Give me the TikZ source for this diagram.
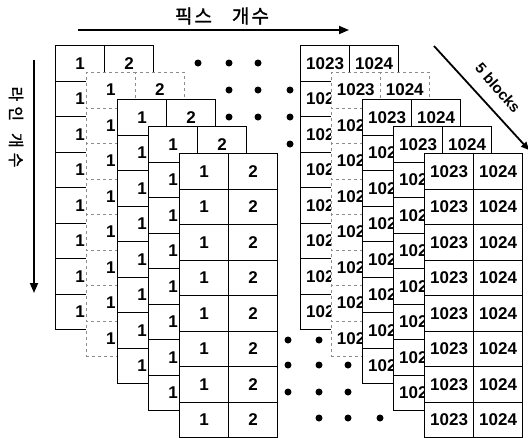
\documentclass[tikz,border=0pt]{standalone}
\usepackage{fontspec}
\setmainfont{Liberation Sans}
\newfontfamily\kr[FakeBold=1.5]{Noto Sans CJK KR}
\usetikzlibrary{arrows.meta}
\begin{document}
\begin{tikzpicture}[x=1pt,y=-1pt,
  cell/.style={draw=black, line width=1.2pt, fill=white, minimum width=49pt,
    minimum height=35.5pt, inner sep=0pt, anchor=north west,
    font=\bfseries\fontsize{17}{17}\selectfont},
  faint/.style={draw=black!45, dashed, line width=0.6pt},
  dotn/.style={circle, fill=black, minimum size=7pt, inner sep=0pt},
  bigarrow/.style={line width=1.8pt, -{Triangle[length=10pt,width=8pt]}},
  klabel/.style={font=\kr\fontsize{19}{19}\selectfont, inner sep=0pt}]
\useasboundingbox (0,0) rectangle (528,437);
\fill[white] (0,0) rectangle (528,437);

% five blocks, back to front
\foreach \i in {0,...,4} {
  \pgfmathsetmacro\xl{55+31*\i}
  \pgfmathsetmacro\xm{104+31*\i}
  \pgfmathsetmacro\xr{300+31*\i}
  \pgfmathsetmacro\xs{349+31*\i}
  \pgfmathsetmacro\yt{45+27*\i}
  \ifnum\i=1 \tikzset{cur/.style={faint}}\else\tikzset{cur/.style={}}\fi
  \foreach \r in {0,...,7} {
    \pgfmathsetmacro\yy{\yt+35.5*\r}
    \node[cell,cur] (b\i-a-\r) at (\xl,\yy) {1};
    \node[cell,cur] (b\i-b-\r) at (\xm,\yy) {2};
    \node[cell,cur] (b\i-c-\r) at (\xr,\yy) {1023};
    \node[cell,cur] (b\i-d-\r) at (\xs,\yy) {1024};
  }
}

% ellipsis dots
\node[dotn] (t11) at (198,63) {};
\node[dotn] (t12) at (229,63) {};
\node[dotn] (t13) at (258,63) {};
\node[dotn] (t21) at (229,90) {};
\node[dotn] (t22) at (258,90) {};
\node[dotn] (t23) at (290,90) {};
\node[dotn] (t31) at (229,117) {};
\node[dotn] (t32) at (258,117) {};
\node[dotn] (t33) at (290,117) {};
\node[dotn] (t41) at (290,144) {};
\node[dotn] (u11) at (288,340) {};
\node[dotn] (u12) at (319,340) {};
\node[dotn] (u21) at (288,365) {};
\node[dotn] (u22) at (319,365) {};
\node[dotn] (u23) at (348,365) {};
\node[dotn] (u31) at (288,392) {};
\node[dotn] (u32) at (319,392) {};
\node[dotn] (u33) at (348,392) {};
\node[dotn] (u41) at (319,418) {};
\node[dotn] (u42) at (348,418) {};
\node[dotn] (u43) at (380,418) {};

% horizontal axis
\coordinate (ha) at (78,30);
\coordinate (hb) at (349,30);
\draw[bigarrow] (ha) -- (hb);
\node[klabel] (hl) at (222,16) {픽\hspace{2pt}스\hspace{20pt}개\hspace{2pt}수};

% vertical axis
\coordinate (va) at (34,60);
\coordinate (vb) at (34,293);
\draw[bigarrow] (va) -- (vb);
\node[klabel, rotate=-90, font=\kr\fontsize{16}{16}\selectfont] (vl) at (16,127)
  {라\hspace{5pt}인\hspace{12pt}개\hspace{5pt}수};

% 5 blocks
\coordinate (da) at (434,46);
\coordinate (db) at (529,150);
\draw[line width=1.8pt, -{Triangle[length=8pt,width=7pt]}] (da) -- (db);
\node[rotate=-49, font=\bfseries\fontsize{15}{15}\selectfont, inner sep=0pt] (dl) at (498,88) {5 blocks};
\end{tikzpicture}
\end{document}
